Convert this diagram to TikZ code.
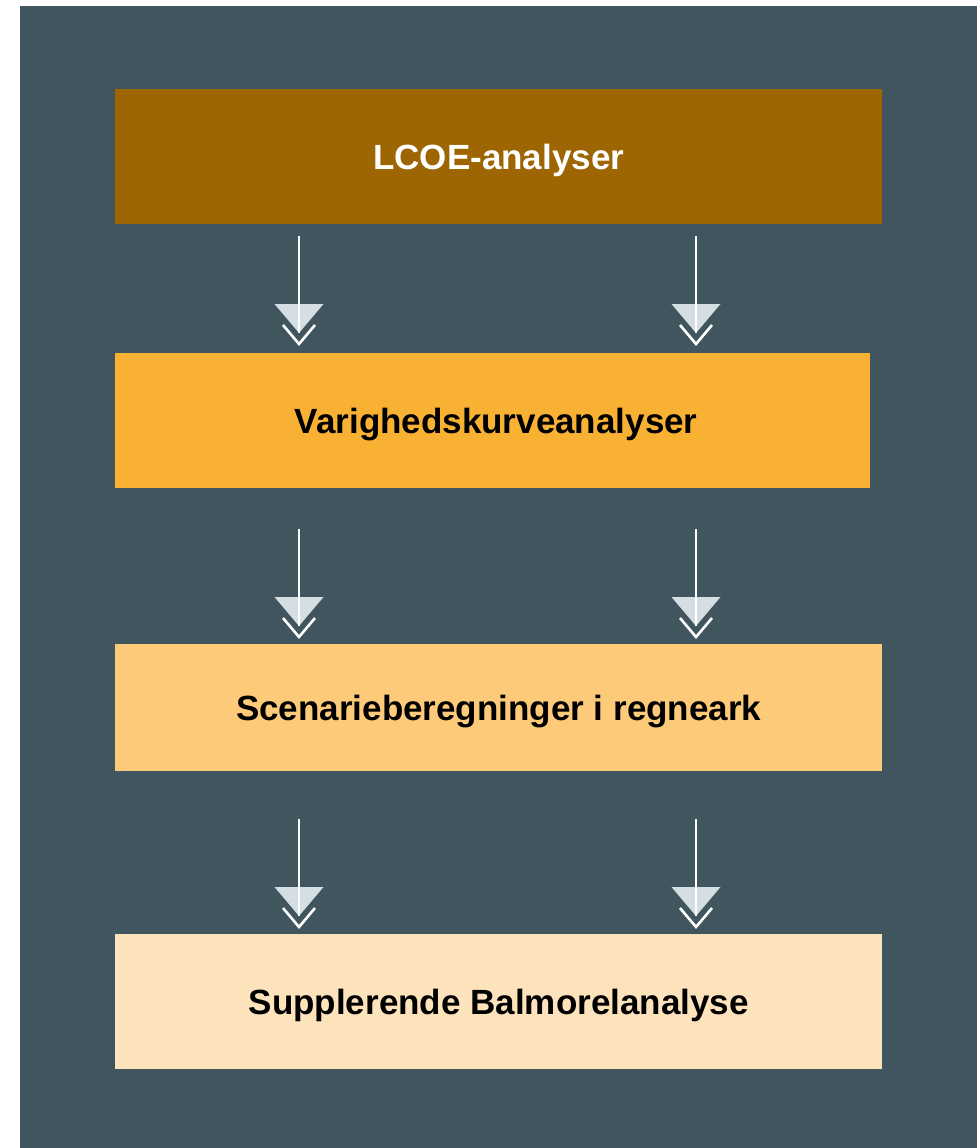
\documentclass[tikz,border=0pt]{standalone}
\usepackage{fontspec}
\setmainfont{Liberation Sans}
\definecolor{bgslate}{HTML}{41555E}
\definecolor{cA}{HTML}{9E6503}
\definecolor{cB}{HTML}{F9B133}
\definecolor{cC}{HTML}{FDCA79}
\definecolor{cD}{HTML}{FDE3BC}
\definecolor{tri}{HTML}{D5DEE2}
\tikzset{
  stage/.style={draw=none,minimum width=767pt,inner sep=0pt,anchor=north west,
    text height=33pt,text depth=7pt,
    font=\fontsize{35}{40}\selectfont\bfseries,text=black},
  flowarrow/.pic={
    \fill[tri] (-24.5,68) -- (24.5,68) -- (0,97) -- cycle;
    \draw[white,line width=2.4pt] (0,0) -- (0,97);
    \draw[white,line width=2.6pt] (-16,89) -- (0,108) -- (16,89);
  }
}
\begin{document}
\begin{tikzpicture}[x=1pt,y=-1pt]
\useasboundingbox (0,0) rectangle (977,1148);
\fill[bgslate] (20,6) rectangle (977,1148);
\node[stage,fill=cA,text=white,minimum height=135pt] (a) at (115,89) {LCOE-analyser};
\node[stage,fill=cB,minimum width=755pt,minimum height=135pt] (b) at (115,353) {\hspace*{7pt}Varighedskurveanalyser};
\node[stage,fill=cC,minimum height=127pt] (c) at (115,644) {Scenarieberegninger i regneark};
\node[stage,fill=cD,minimum height=135pt] (d) at (115,934) {Supplerende Balmorelanalyse};
\coordinate (a1) at (299,236);
\coordinate (a2) at (696,236);
\coordinate (b1) at (299,529);
\coordinate (b2) at (696,529);
\coordinate (c1) at (299,819);
\coordinate (c2) at (696,819);
\foreach \p in {a1,a2,b1,b2,c1,c2}{
  \pic at (\p) {flowarrow};
}
\end{tikzpicture}
\end{document}
